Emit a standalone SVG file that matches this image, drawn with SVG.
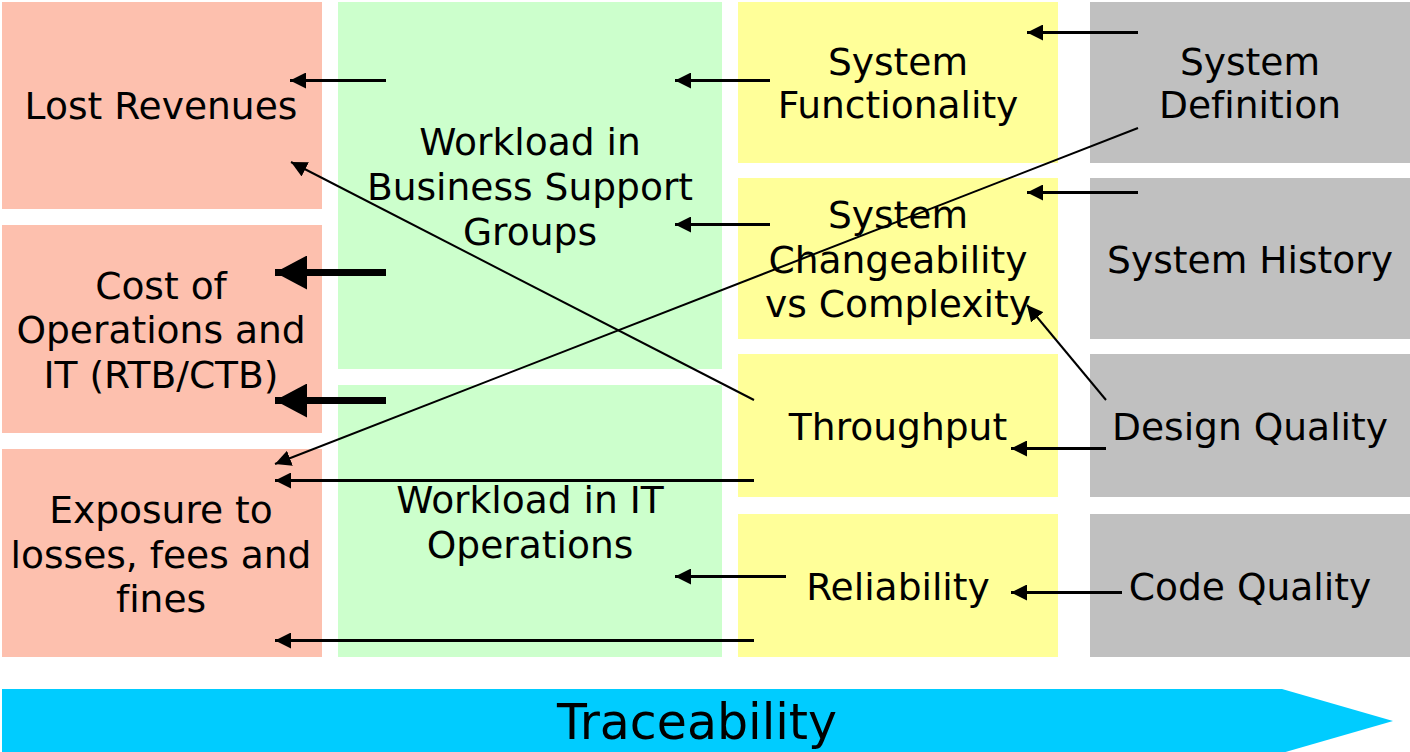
<svg xmlns="http://www.w3.org/2000/svg" width="1410" height="752" viewBox="0 0 1410 752">
<style>
.red{fill:#fdc0ae}.green{fill:#ccffcc}.yellow{fill:#ffff99}.gray{fill:#c0c0c0}
text{font-family:"DejaVu Sans","Verdana",sans-serif;font-size:37.6px;fill:#000;text-anchor:middle;font-variant-ligatures:none}
.a{stroke:#000;stroke-width:3;fill:none;marker-end:url(#h)}
.d{stroke:#000;stroke-width:2;fill:none;marker-end:url(#h)}
.t{stroke:#000;stroke-width:7;fill:none;marker-end:url(#H)}
</style>
<defs>
<marker id="h" viewBox="0 0 16 16" markerWidth="16" markerHeight="16" markerUnits="userSpaceOnUse" refX="16" refY="8" orient="auto"><path d="M0,0 L16,8 L0,16 z" fill="#000"/></marker>
<marker id="H" viewBox="0 0 32 34" markerWidth="32" markerHeight="34" markerUnits="userSpaceOnUse" refX="32" refY="17" orient="auto"><path d="M0,0 L32,17 L0,34 z" fill="#000"/></marker>
</defs>
<rect width="1410" height="752" fill="#fff"/>
<g id="lost-revenues"><rect class="red" x="2" y="2" width="320" height="207"/><text x="161" y="119">Lost Revenues</text></g>
<g id="cost-of-operations"><rect class="red" x="2" y="225" width="320" height="208"/><text x="161" y="299">Cost of</text><text x="161" y="343">Operations and</text><text x="161" y="388">IT (RTB/CTB)</text></g>
<g id="exposure"><rect class="red" x="2" y="449" width="320" height="208"/><text x="161" y="523">Exposure to</text><text x="161" y="568">losses, fees and</text><text x="161" y="612">fines</text></g>
<g id="workload-business"><rect class="green" x="338" y="2" width="384" height="367"/><text x="530" y="155">Workload in</text><text x="530" y="200">Business Support</text><text x="530" y="245">Groups</text></g>
<g id="workload-it"><rect class="green" x="338" y="385" width="384" height="272"/><text x="530" y="513">Workload in IT</text><text x="530" y="558">Operations</text></g>
<g id="system-functionality"><rect class="yellow" x="738" y="2" width="320" height="161"/><text x="898" y="75">System</text><text x="898" y="118">Functionality</text></g>
<g id="system-changeability"><rect class="yellow" x="738" y="178" width="320" height="161"/><text x="898" y="228">System</text><text x="898" y="273">Changeability</text><text x="898" y="317">vs Complexity</text></g>
<g id="throughput"><rect class="yellow" x="738" y="354" width="320" height="143"/><text x="898" y="440">Throughput</text></g>
<g id="reliability"><rect class="yellow" x="738" y="514" width="320" height="143"/><text x="898" y="600">Reliability</text></g>
<g id="system-definition"><rect class="gray" x="1090" y="2" width="320" height="161"/><text x="1250" y="75">System</text><text x="1250" y="118">Definition</text></g>
<g id="system-history"><rect class="gray" x="1090" y="178" width="320" height="161"/><text x="1250" y="273">System History</text></g>
<g id="design-quality"><rect class="gray" x="1090" y="354" width="320" height="143"/><text x="1250" y="440">Design Quality</text></g>
<g id="code-quality"><rect class="gray" x="1090" y="514" width="320" height="143"/><text x="1250" y="600">Code Quality</text></g>
<g id="traceability"><path d="M2,689 L1282,689 L1393,721 L1282,753 L2,753 z" fill="#00ccff"/><text x="697" y="739" style="font-size:49px">Traceability</text></g>
<g id="connectors">
<line class="a" x1="386" y1="80.5" x2="290" y2="80.5"/>
<line class="a" x1="770" y1="80.5" x2="675" y2="80.5"/>
<line class="a" x1="770" y1="224.5" x2="675" y2="224.5"/>
<line class="a" x1="1138" y1="32.5" x2="1027" y2="32.5"/>
<line class="a" x1="1138" y1="192.5" x2="1027" y2="192.5"/>
<line class="t" x1="386" y1="272.5" x2="275" y2="272.5"/>
<line class="t" x1="386" y1="400.5" x2="275" y2="400.5"/>
<line class="d" x1="754" y1="400" x2="291" y2="162"/>
<line class="d" x1="1138" y1="128" x2="275" y2="464"/>
<line class="a" x1="754" y1="480.5" x2="275" y2="480.5"/>
<line class="a" x1="754" y1="640.5" x2="275" y2="640.5"/>
<line class="a" x1="786" y1="576.5" x2="675" y2="576.5"/>
<line class="a" x1="1106" y1="448.5" x2="1011" y2="448.5"/>
<line class="a" x1="1122" y1="592.5" x2="1011" y2="592.5"/>
<line class="d" x1="1106" y1="400" x2="1027" y2="305"/>
</g>
</svg>
